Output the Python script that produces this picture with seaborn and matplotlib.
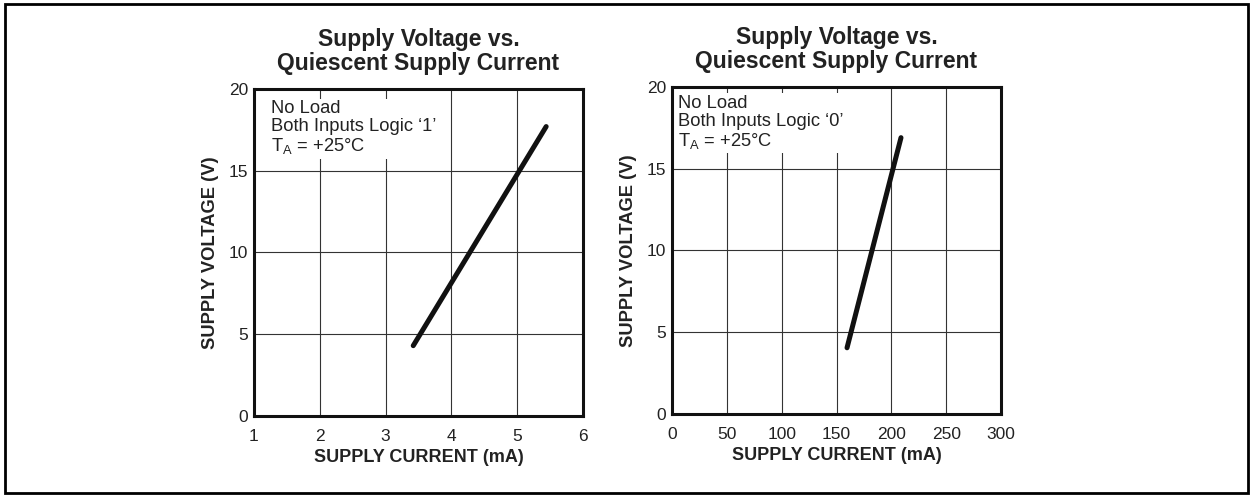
"""Supply Voltage vs. Quiescent Supply Current - two panel reproduction."""

import matplotlib
matplotlib.use("Agg")
import matplotlib.pyplot as plt
from matplotlib.patches import Rectangle
import pandas as pd
import seaborn as sns

# Logic '1' panel (current in mA)
current_logic1 = [3.42, 5.44]
voltage_logic1 = [4.3, 17.7]

# Logic '0' panel
current_logic0 = [159.6, 208.8]
voltage_logic0 = [4.05, 16.9]

title_text = "Supply Voltage vs.\nQuiescent Supply Current"
xlabel_text = "SUPPLY CURRENT (mA)"
ylabel_text = "SUPPLY VOLTAGE (V)"
notes_logic1 = "No Load\nBoth Inputs Logic \u20181\u2019\nT$_\\mathregular{A}$ = +25\u00b0C"
notes_logic0 = "No Load\nBoth Inputs Logic \u20180\u2019\nT$_\\mathregular{A}$ = +25\u00b0C"

xticks_logic1 = [1, 2, 3, 4, 5, 6]
xticks_logic0 = [0, 50, 100, 150, 200, 250, 300]
yticks = [0, 5, 10, 15, 20]

sns.set_style("white")
plt.rcParams["font.family"] = ["Liberation Sans", "DejaVu Sans"]
plt.rcParams["mathtext.fontset"] = "custom"
plt.rcParams["mathtext.rm"] = "Liberation Sans"

fig = plt.figure(figsize=(12.53, 4.97), dpi=100)

# outer frame of the figure
fig.patches.append(Rectangle((0.004, 0.008), 0.992, 0.984, transform=fig.transFigure,
                             fill=False, edgecolor="black", linewidth=2.0))

ax1 = fig.add_axes([0.2027, 0.163, 0.2626, 0.658])
ax2 = fig.add_axes([0.5363, 0.167, 0.2626, 0.658])


def style_panel(ax, xs, ys, xticks, notes, note_xy):
    df = pd.DataFrame({"current": xs, "voltage": ys})
    sns.lineplot(data=df, x="current", y="voltage", ax=ax, color="#111111",
                 linewidth=3.6, zorder=3)
    ax.set_xlim(xticks[0], xticks[-1])
    ax.set_ylim(yticks[0], yticks[-1])
    ax.set_xticks(xticks)
    ax.set_yticks(yticks)
    ax.grid(True, color="#333333", linewidth=0.8)
    ax.set_axisbelow(True)
    for sp in ax.spines.values():
        sp.set_color("#111111")
        sp.set_linewidth(2.2)
    ax.tick_params(axis="both", labelsize=12.5, length=0, colors="#222222")
    ax.tick_params(axis="x", pad=9.5)
    ax.tick_params(axis="y", pad=4)
    ax.set_xlabel(xlabel_text, fontsize=13, fontweight="bold", labelpad=3.5, color="#222222")
    ax.set_ylabel(ylabel_text, fontsize=13.2, fontweight="bold", labelpad=7, color="#222222")
    ax.set_title(title_text, fontsize=16.5, fontweight="bold", pad=14, linespacing=1.05,
                 color="#222222")
    ax.text(note_xy[0], note_xy[1], notes, transform=ax.transAxes, fontsize=13.2,
            va="top", ha="left", linespacing=1.05, zorder=4, color="#222222",
            bbox=dict(facecolor="white", edgecolor="none", pad=2))


style_panel(ax1, current_logic1, voltage_logic1, xticks_logic1, notes_logic1, (0.052, 0.965))
style_panel(ax2, current_logic0, voltage_logic0, xticks_logic0, notes_logic0, (0.018, 0.975))

fig.savefig("out.png", dpi=100)
